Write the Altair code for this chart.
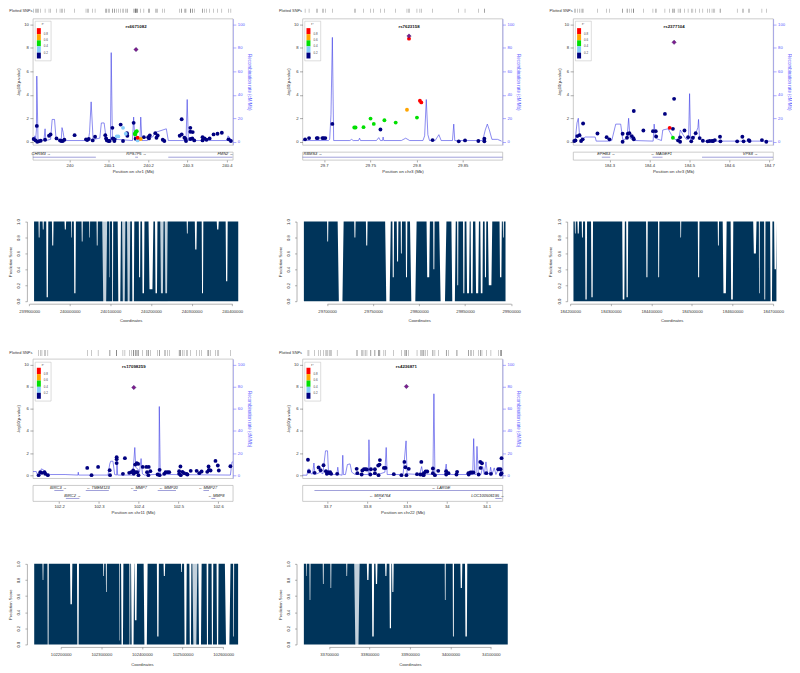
import altair as alt
import pandas as pd

# ---------- values ----------
R2_COLORS = ["#ff0000", "#ffa500", "#00e000", "#87cefa", "#000080"]
R2_LABELS = ["0.8", "0.6", "0.4", "0.2"]
NAVY, LBLUE, GREEN, ORANGE, RED = "#000080", "#87cefa", "#00e000", "#ffa500", "#ff0000"
LEAD = "#7d1c8c"

P1_NAVY = [(239.909,.23),(239.914,.11),(239.917,1.35),(239.918,0),(239.922,.03),(239.927,.08),(239.938,.17),(239.948,.51),(239.952,.62),(239.967,.28),(239.976,.11),(239.979,.06),(239.983,.06),(239.987,.17),(240.013,.56),(240.042,.2),(240.045,.14),(240.049,.23),(240.059,.11),(240.065,.42),(240.091,.56),(240.093,.28),(240.095,.11),(240.099,.06),(240.102,.06),(240.109,1.18),(240.110,.28),(240.115,.23),(240.114,.06),(240.130,1.46),(240.136,.06),(240.146,.73),(240.147,.51),(240.163,1.61),(240.168,.25),(240.189,.39),(240.200,.39),(240.204,.54),(240.202,.28),(240.218,.73),(240.221,.34),(240.224,.54),(240.237,.17),(240.241,.06),(240.280,.51),(240.285,.62),(240.285,1.92),(240.292,.34),(240.295,.23),(240.296,.06),(240.307,1.18),(240.307,.85),(240.313,.82),(240.307,.23),(240.312,.28),(240.317,.11),(240.338,.39),(240.338,.11),(240.343,.28),(240.348,.17),(240.356,.28),(240.366,.62),(240.376,.68),(240.387,.76),(240.404,.2),(240.410,.06)]
P1_LBLUE = [(240.120,.45),(240.124,.45),(240.136,1.18),(240.143,.68),(240.173,.11)]
P1_GREEN = [(240.167,.62),(240.169,.85),(240.171,.9),(240.166,.68),(240.168,.76)]
P1_ORANGE = [(240.181,.23)]
P1_RED = [(240.173,.34)]
P1_LEAD = (240.169,7.86)
P1_RATE = [(239.907,1),(239.911,1),(239.912,5),(239.914,2),(239.916,10),(239.917,56),(239.920,2),(239.935,1),(239.938,11),(239.940,1),(239.952,2),(239.956,19),(239.962,19),(239.966,2),(239.979,1),(239.981,12),(239.984,8),(239.987,1),(240.048,1),(240.051,8),(240.055,34),(240.060,2),(240.077,3),(240.081,16),(240.088,16),(240.093,3),(240.104,1),(240.106,76),(240.109,1),(240.118,2),(240.160,1),(240.163,21),(240.166,2),(240.179,1),(240.181,21),(240.184,1),(240.198,1),(240.202,3),(240.211,4),(240.219,8),(240.246,11),(240.251,1),(240.296,1),(240.299,36),(240.302,1),(240.400,1),(240.403,5),(240.413,1)]

P2_NAVY = [(29.6795,.2),(29.6838,.31),(29.6921,.31),(29.6932,.31),(29.6982,.31),(29.6996,.31),(29.7014,.31),(29.709,1.52),(29.761,1.04),(29.8174,.14),(29.8457,.03),(29.8525,.11),(29.8669,.06),(29.8734,.25),(29.8734,.03)]
P2_GREEN = [(29.7327,1.21),(29.7341,1.21),(29.7427,1.24),(29.7503,1.97),(29.7538,1.52),(29.7653,1.83),(29.7775,1.63),(29.8005,2.06)]
P2_ORANGE = [(29.7897,2.73)]
P2_RED = [(29.8037,3.49),(29.8052,3.35),(29.7919,8.79)]
P2_LEAD = (29.7919,9.01)
P2_RATE = [(29.6767,1),(29.7047,1),(29.7061,2),(29.7075,23),(29.7090,89),(29.7104,1),(29.7280,1),(29.7298,2),(29.7316,1),(29.7373,1),(29.7384,3),(29.7395,1),(29.7567,1),(29.7592,3.5),(29.7610,1),(29.7632,1),(29.7639,4),(29.7646,1),(29.7836,1),(29.7883,3),(29.7926,1),(29.8070,1),(29.8088,5),(29.8106,36),(29.8123,6),(29.8141,1),(29.8202,1),(29.8242,6),(29.8267,1),(29.8389,1),(29.8403,15),(29.8414,1),(29.8716,1),(29.8744,10),(29.8766,15),(29.8788,10),(29.8816,2),(29.8877,2),(29.8920,.5)]

P3_NAVY = [(184.212,.06),(184.215,.11),(184.2195,.48),(184.225,.56),(184.229,.06),(184.233,.2),(184.234,1.55),(184.270,.7),(184.293,.39),(184.300,.2),(184.333,.68),(184.333,0),(184.344,.34),(184.346,.68),(184.350,.73),(184.356,.48),(184.360,.31),(184.361,2.62),(184.361,.2),(184.385,.96),(184.409,.9),(184.416,.9),(184.417,.45),(184.439,2.37),(184.459,1.1),(184.462,3.66),(184.472,.11),(184.477,0),(184.477,.37),(184.488,.96),(184.497,.39),(184.505,.03),(184.509,.34),(184.516,.73),(184.526,.31),(184.534,.08),(184.546,.03),(184.551,.06),(184.557,.06),(184.560,.06),(184.564,.14),(184.577,.42),(184.578,.03),(184.620,.03),(184.633,.42),(184.636,.03),(184.649,.14),(184.651,.06),(184.682,.14),(184.693,0)]
P3_GREEN = [(184.459,.34)]
P3_RED = [(184.451,1.18)]
P3_LEAD = (184.462,8.48)
P3_RATE = [(184.209,.5),(184.2145,2),(184.2187,16),(184.222,20),(184.2245,8),(184.231,2),(184.2394,4),(184.2643,4),(184.2668,.5),(184.2975,.5),(184.3058,1),(184.3158,15),(184.3282,15),(184.3332,2),(184.339,2),(184.344,3),(184.3481,20),(184.3515,3),(184.3639,1),(184.4095,.5),(184.412,15),(184.4154,3),(184.4303,1),(184.4336,10),(184.4469,11),(184.4552,6),(184.4635,2),(184.4734,1),(184.4776,10),(184.4842,6),(184.4925,2),(184.4983,2),(184.5008,41),(184.5033,1),(184.5108,2),(184.5216,12),(184.5232,19),(184.5257,3),(184.5324,.5),(184.7083,.5)]

P4_NAVY = [(102.1484,0),(102.1526,.27),(102.1568,.21),(102.1634,.27),(102.1651,.12),(102.1717,0),(102.2707,.66),(102.2815,0),(102.2981,.75),(102.3272,.45),(102.3281,0),(102.3447,1.63),(102.3447,1.45),(102.3447,1.09),(102.3655,1.54),(102.3605,.12),(102.3763,.21),(102.3813,.27),(102.3863,.42),(102.3879,.12),(102.3913,.96),(102.3954,1.08),(102.3988,1.02),(102.3921,.27),(102.3963,.27),(102.3996,0),(102.4104,.75),(102.4195,.75),(102.4254,.75),(102.4212,.27),(102.4295,.36),(102.4245,0),(102.4478,.06),(102.4528,.48),(102.4528,0),(102.4644,.12),(102.4678,.27),(102.4728,.27),(102.4769,.27),(102.5019,.36),(102.5052,.78),(102.5019,.12),(102.506,0),(102.5102,.3),(102.5143,.18),(102.5202,.12),(102.5227,.06),(102.531,.39),(102.5459,.39),(102.5526,.18),(102.5584,.33),(102.5726,.3),(102.5759,.78),(102.5767,.48),(102.5809,.42),(102.5933,1.29),(102.5992,.87),(102.6017,.42),(102.6308,.81)]
P4_LEAD = (102.3879,7.92)
P4_RATE = [(102.1343,3.3),(102.1426,3.3),(102.1459,0),(102.1526,0),(102.1551,5.7),(102.1609,4.8),(102.1692,1.2),(102.1775,.6),(102.215,.6),(102.2474,.1),(102.2482,2.7),(102.2491,.1),(102.3231,.1),(102.3272,10),(102.3297,12.6),(102.3355,12.6),(102.3397,.6),(102.3447,.1),(102.3455,12.6),(102.3472,.1),(102.3854,.1),(102.3904,25),(102.3929,7),(102.3979,5.7),(102.4021,2.7),(102.4062,15),(102.4096,1.2),(102.4146,.1),(102.4395,.6),(102.4478,1.2),(102.4511,.6),(102.452,62),(102.4545,.1),(102.4728,.6),(102.6308,.1),(102.6349,12),(102.6366,12)]

P5_NAVY = [(33.6517,1.39),(33.6542,.33),(33.6684,.21),(33.6784,.69),(33.6834,.45),(33.6908,.9),(33.6967,.36),(33.6992,.12),(33.7017,.27),(33.705,.18),(33.7075,.27),(33.71,.12),(33.725,.12),(33.774,.57),(33.7757,.18),(33.7865,.06),(33.7882,.42),(33.7923,.54),(33.7965,.54),(33.7998,.51),(33.8082,.06),(33.8098,.54),(33.8198,.54),(33.8198,.18),(33.8281,.87),(33.8314,.96),(33.8323,1.36),(33.8289,0),(33.8423,.66),(33.8464,.66),(33.8672,.09),(33.8864,0),(33.8938,1.2),(33.8963,.72),(33.9047,.57),(33.8988,0),(33.9255,.09),(33.9338,.06),(33.9363,1.2),(33.9388,.06),(33.9429,.18),(33.9421,0),(33.9471,.33),(33.9512,.33),(33.9654,.6),(33.9654,.18),(33.9704,0),(33.9787,.39),(33.9987,.36),(33.9987,.06),(34.0045,.18),(34.0245,.06),(34.0261,.3),(34.0544,.18),(34.0552,.06),(34.0594,.24),(34.0627,.24),(34.0669,.24),(34.0802,.06),(34.0844,1.2),(34.0885,1.08),(34.0852,.66),(34.0993,.18),(34.111,.12),(34.1293,.54),(34.1351,.54),(34.1376,1.54),(34.1376,.18),(34.136,.06)]
P5_LEAD = (33.8988,8.01)
P5_RATE = [(33.6384,0),(33.6493,0),(33.6517,5.4),(33.6559,5.4),(33.6592,1.2),(33.6634,1.2),(33.6667,11),(33.6692,1.2),(33.6742,1.2),(33.6825,2.7),(33.6892,1.2),(33.6925,12),(33.6958,22),(33.7008,22),(33.7033,2.7),(33.7075,.6),(33.7241,.6),(33.7266,7.2),(33.7291,.6),(33.7374,0),(33.7391,18),(33.7408,.6),(33.7458,.6),(33.7507,9.6),(33.7574,10.2),(33.7616,2.7),(33.7699,.6),(33.8032,.6),(33.8048,32),(33.8073,.6),(33.8281,.6),(33.8448,2.7),(33.8481,25),(33.8506,.6),(33.8905,.6),(33.898,31),(33.9005,1.2),(33.9321,.6),(33.9371,7.8),(33.9404,1.2),(33.9654,.6),(33.9679,73.5),(33.9704,.6),(33.9945,.6),(33.9987,10),(34.0012,.6),(34.0652,.6),(34.0677,33),(34.0702,.6),(34.0735,.6),(34.076,26),(34.0794,.6),(34.086,.6),(34.0902,7.8),(34.0943,.6),(34.0985,12),(34.1027,.6),(34.1085,2.7),(34.1102,7.2),(34.1135,.6),(34.1193,6.6),(34.1235,.6),(34.1318,7.2),(34.136,.6),(34.1401,.6)]

# genes: name, label position, line start, line end, track
P1_GENES = [("CHRM3 \u2192",239.928,239.907,240.067,0),("RPS7P5 \u2192",240.170,240.167,240.174,0),("FMN2 \u2192",240.396,240.251,240.414,0)]
P2_GENES = [("RBMS3 \u2192",29.688,29.6767,29.893,0)]
P3_GENES = [("EPHB3 \u2192",184.292,184.281,184.302,0),("\u2190 MAGEF1",184.430,184.408,184.433,0),("VPS8 \u2192",184.653,184.532,184.71,0)]
P4_GENES = [("BIRC3 \u2192",102.198,102.188,102.211,0),("\u2190 TMEM123",102.298,102.267,102.325,0),("\u2190 MMP7",102.400,102.387,102.396,0),("\u2190 MMP20",102.475,102.448,102.494,0),("\u2190 MMP27",102.574,102.563,102.577,0),("BIRC2 \u2192",102.234,102.217,102.251,1),("\u2190 MMP8",102.595,102.583,102.593,1)]
P5_GENES = [("\u2190 LARGE",33.986,33.668,34.14,0),("\u2190 MIR4764",33.832,33.830,33.835,1),("LOC100506195 \u2192",34.103,34.122,34.138,1)]

# prediction score: start, end, then notches (left, right, lowest score)
S1 = (239.912,240.415)
N1 = [(239.923,239.926,.8),(239.933,239.936,.9),(239.942,239.947,.05),(239.956,239.960,.7),(239.987,239.991,.9),(240.003,240.005,.8),(240.010,240.015,.1),(240.029,240.032,.75),(240.048,240.050,.8),(240.066,240.069,.7),(240.080,240.092,0),(240.097,240.099,.3),(240.104,240.107,0),(240.118,240.126,0),(240.129,240.137,0),(240.141,240.149,0),(240.153,240.159,0),(240.170,240.174,.3),(240.178,240.184,.1),(240.194,240.206,.15),(240.210,240.216,.1),(240.223,240.231,.1),(240.234,240.241,.1),(240.288,240.291,.85),(240.308,240.313,.65),(240.325,240.329,.1),(240.362,240.367,.9),(240.384,240.389,.25)]
PALE1 = [(240.080,240.104),(240.129,240.153),(240.223,240.241)]
S2 = (29.6748,29.8939)
N2 = [(29.7000,29.7014,.75),(29.7115,29.718,0),(29.7295,29.731,.8),(29.7422,29.744,.7),(29.7631,29.7692,0),(29.771,29.7728,.3),(29.7757,29.7775,.5),(29.78,29.7814,.6),(29.7854,29.7872,.3),(29.7901,29.7973,0),(29.8081,29.8117,.3),(29.8153,29.8168,.4),(29.8218,29.8297,0),(29.8351,29.8398,0),(29.8413,29.8427,.2),(29.8477,29.8495,.1),(29.8514,29.855,.1),(29.856,29.8586,.1),(29.8611,29.865,.1),(29.8665,29.8694,.1),(29.8712,29.873,.3),(29.8748,29.8795,.2),(29.8874,29.8899,.3),(29.891,29.8921,.8)]
PALE2 = []
S3 = (184.2082,184.7082)
N3 = [(184.2114,184.2139,.85),(184.218,184.222,.85),(184.2286,184.2319,.8),(184.2368,184.2417,.02),(184.2515,184.2564,.05),(184.3283,184.3348,.02),(184.3381,184.343,.05),(184.3871,184.3912,.3),(184.4165,184.4198,.3),(184.4712,184.4737,.8),(184.5145,184.5186,.3),(184.5636,184.5668,.7),(184.5758,184.5856,.1),(184.5954,184.602,.02),(184.651,184.6592,.6),(184.6649,184.6673,.1),(184.6779,184.6812,.02),(184.6926,184.6984,0),(184.7025,184.7082,.4)]
PALE3 = []
S4 = (102.1347,102.6367)
N4 = [(102.1551,102.1576,.8),(102.1673,102.1706,0),(102.2229,102.2286,.5),(102.24,102.2449,0),(102.3045,102.3069,.85),(102.3110,102.3135,.65),(102.3437,102.3453,.05),(102.3486,102.3543,0),(102.369,102.3714,0),(102.3731,102.3808,0),(102.3815,102.3878,.3),(102.4041,102.4139,0),(102.4367,102.4416,.1),(102.4531,102.4571,.85),(102.4963,102.4988,.9),(102.5037,102.5102,0),(102.5167,102.5216,0),(102.5241,102.5363,0),(102.5388,102.5469,0),(102.5592,102.5633,0),(102.5714,102.5755,0),(102.5837,102.5886,0),(102.6041,102.618,0),(102.6245,102.6269,.1)]
PALE4 = [(102.5241,102.5363)]
S5 = (33.6377,34.1418)
N5 = [(33.6434,33.6451,.85),(33.6516,33.6541,.55),(33.6844,33.6869,.75),(33.7033,33.7057,.7),(33.7426,33.7451,.85),(33.7623,33.7754,0),(33.7934,33.7984,.8),(33.8057,33.8115,.1),(33.8148,33.8197,.75),(33.8385,33.8426,.85),(33.8492,33.8541,.2),(33.8557,33.8598,.65),(33.986,33.9885,.55),(34.0057,34.009,.1),(34.0246,34.0295,.7),(34.0361,34.0418,.1)]
PALE5 = [(33.7623,33.7754)]

TXT = "#333333"
BLUE_AXIS = "#5a5aff"
LINE_BLUE = "#3c3ce6"
PRED_DARK = "#00345a"
PALE = "#c3d1dc"
FRAME = "#b5b5b5"
FS = 4.2

def frame_view():
    return alt.ViewConfig(stroke=FRAME, strokeWidth=0.7)

def spacer(w, h):
    return alt.Chart(pd.DataFrame({"s": [0]})).mark_point(opacity=0).encode(
        x=alt.value(0), y=alt.value(0)).properties(width=w, height=h)

def main_x(dom):
    return alt.X("x:Q", scale=alt.Scale(domain=list(dom), nice=False), axis=None, title=None)

def strip_cell(dom, snps, w, h):
    df = pd.DataFrame({"x": [p[0] for p in snps], "b": "Plotted SNPs"})
    return alt.Chart(df).mark_tick(color="#555555", thickness=0.4, size=h, opacity=0.8).encode(
        x=main_x(dom),
        y=alt.Y("b:N", title=None, axis=alt.Axis(domain=False, ticks=False, labelFontSize=3.9,
                                                  labelColor=TXT, labelPadding=1)),
    ).properties(width=w, height=h)

def main_cell(dom, rate, groups, lead, rsid, swatch_y, w, h, box):
    ydom = [-0.28, 10.5]
    rdom = [-2.8, 105]
    x = main_x(dom)
    yaxis_none = alt.Y("y:Q", scale=alt.Scale(domain=ydom, nice=False), axis=None, title=None)
    y2f = alt.Y2("y2:Q")
    left_axis = alt.Axis(values=[0, 2, 4, 6, 8, 10], title="-log10(p-value)", domain=False, grid=False,
                         tickSize=3, tickWidth=0.5, tickColor="#555555", labelFontSize=FS,
                         labelColor=TXT, labelPadding=1.5, titleFontSize=FS, titleColor=TXT,
                         titleFontWeight="normal", titlePadding=3, orient="left", labelFlush=False)
    right_axis = alt.Axis(values=[0, 20, 40, 60, 80, 100], title="Recombination rate (cM/Mb)", domain=True,
                          domainColor=BLUE_AXIS, domainWidth=0.4, grid=False, tickSize=3, tickWidth=0.5,
                          tickColor=BLUE_AXIS, labelFontSize=FS, labelColor=BLUE_AXIS, labelPadding=1.5,
                          titleFontSize=FS + 0.3, titleColor=BLUE_AXIS, titleFontWeight="normal",
                          titlePadding=2, orient="right", labelFlush=False)
    layers = []
    rdf = pd.DataFrame(rate, columns=["x", "r"])
    layers.append(alt.Chart(rdf).mark_line(color=LINE_BLUE, strokeWidth=0.7, opacity=0.85).encode(
        x=x, y=alt.Y("r:Q", scale=alt.Scale(domain=rdom, nice=False), axis=right_axis)))
    rows = []
    for color, g in groups:
        rows += [{"x": a, "y": b, "c": color} for a, b in g]
    layers.append(alt.Chart(pd.DataFrame(rows)).mark_circle(size=15, opacity=1).encode(
        x=x, y=alt.Y("y:Q", scale=alt.Scale(domain=ydom, nice=False), axis=left_axis),
        color=alt.Color("c:N", scale=None)))
    layers.append(alt.Chart(pd.DataFrame([{"x": lead[0], "y": lead[1]}])).mark_point(
        shape="diamond", filled=True, size=20, color=LEAD, opacity=1, stroke="#202060", strokeWidth=0.3
    ).encode(x=x, y=yaxis_none))
    layers.append(alt.Chart(pd.DataFrame([{"x": lead[0], "y": 9.78, "t": rsid}])).mark_text(
        fontSize=FS + 0.2, color="#111111", fontWeight="bold").encode(x=x, y=yaxis_none, text="t:N"))
    layers.append(alt.Chart(pd.DataFrame([{"y": box[0], "y2": box[1]}])).mark_rect(
        fill="white", stroke="#bbbbbb", strokeWidth=0.5).encode(
        x=alt.value(2.3), x2=alt.value(18.3), y=yaxis_none, y2=y2f))
    sw = pd.DataFrame({"y": swatch_y[:-1], "y2": swatch_y[1:], "c": R2_COLORS})
    layers.append(alt.Chart(sw).mark_rect().encode(
        x=alt.value(4), x2=alt.value(8), y=yaxis_none, y2=y2f, color=alt.Color("c:N", scale=None)))
    lab = pd.DataFrame({"y": swatch_y[1:5], "t": R2_LABELS})
    layers.append(alt.Chart(lab).mark_text(fontSize=3, color="#444444", align="left").encode(
        x=alt.value(11), y=yaxis_none, text="t:N"))
    layers.append(alt.Chart(pd.DataFrame([{"y": box[0] - 0.25, "t": "r\u00b2"}])).mark_text(
        fontSize=3.5, color="#333333").encode(x=alt.value(10), y=yaxis_none, text="t:N"))
    return alt.layer(*layers).resolve_scale(y="independent").properties(width=w, height=h, view=frame_view())

def gene_cell(dom, genes, ticks, title, w, h):
    n = max(g[4] for g in genes) + 1
    axis = alt.Axis(values=ticks, format=".6~g", title=title, domain=False, grid=False, tickSize=2,
                    tickWidth=0.5, tickColor="#555555", labelFontSize=FS, labelColor=TXT, labelPadding=1.5,
                    titleFontSize=FS + 0.2, titleColor=TXT, titleFontWeight="normal", titlePadding=1.5,
                    labelFlush=False)
    x = alt.X("x:Q", scale=alt.Scale(domain=list(dom), nice=False), axis=axis)
    y = alt.Y("y:Q", scale=alt.Scale(domain=[n, 0], nice=False), axis=None)
    line = pd.DataFrame([{"x": g[2], "x2": g[3], "y": g[4] + 0.66} for g in genes])
    text = pd.DataFrame([{"x": g[1], "y": g[4] + 0.32, "t": g[0]} for g in genes])
    a = alt.Chart(line).mark_rule(color="#2020a8", strokeWidth=0.5, opacity=0.85).encode(x=x, x2="x2:Q", y=y)
    b = alt.Chart(text).mark_text(fontSize=FS - 0.2, fontStyle="italic", color="#222222").encode(x=x, y=y, text="t:N")
    return alt.layer(a, b).properties(width=w, height=h, view=frame_view())

def pred_cell(span, notches, pale, ticks, rng, w, h):
    xs = [span[0]]
    ys = [1.0]
    for l, r, low in notches:
        xs += [l, l + (r - l) * 0.2, l + (r - l) * 0.8, r]
        ys += [1.0, low, low, 1.0]
    xs.append(span[1])
    ys.append(1.0)
    df = pd.DataFrame({"x": [v * 1e6 for v in xs], "s": ys})
    axis = alt.Axis(values=ticks, format="d", title="Coordinates", domain=True, domainColor="#666666",
                    domainWidth=0.5, grid=False, tickSize=2, tickWidth=0.5, tickColor="#666666",
                    labelFontSize=FS, labelColor=TXT, labelPadding=4, labelOverlap=False, titleFontSize=FS,
                    titleColor=TXT, titleFontWeight="normal", titlePadding=5, offset=2.5, labelFlush=False)
    x = alt.X("x:Q", scale=alt.Scale(domain=[ticks[0], ticks[-1]], range=rng, nice=False), axis=axis)
    yaxis = alt.Axis(values=[0, .2, .4, .6, .8, 1], format=".1f", title="Prediction Score", domain=True,
                     domainColor="#666666", domainWidth=0.5, grid=False, tickSize=2, tickWidth=0.5,
                     tickColor="#666666", labelFontSize=FS, labelColor=TXT, labelAngle=-90, labelAlign="center",
                     labelBaseline="bottom", labelPadding=4, titleFontSize=FS, titleColor=TXT,
                     titleFontWeight="normal", titlePadding=4.5, offset=6, labelFlush=False)
    y = alt.Y("s:Q", scale=alt.Scale(domain=[0, 1], nice=False), axis=yaxis)
    layers = []
    if pale:
        pale_df = pd.DataFrame([{"x": a * 1e6, "x2": b * 1e6, "s": 0.0, "s2": 1.0} for a, b in pale])
        layers.append(alt.Chart(pale_df).mark_rect(color=PALE).encode(x=x, x2="x2:Q", y=y, y2="s2:Q"))
    layers.append(alt.Chart(df).mark_area(color=PRED_DARK, opacity=1, interpolate="linear").encode(x=x, y=y))
    return alt.layer(*layers).properties(width=w, height=h)

W1, W2, W3 = 270.5, 272, 206
F = 201

d1 = (239.907, 240.415); d2 = (29.6767, 29.893); d3 = (184.209, 184.71); d4 = (102.134, 102.637); d5 = (33.638, 34.14)
t1 = [240, 240.1, 240.2, 240.3, 240.4]; t2 = [29.7, 29.75, 29.8, 29.85]; t3 = [184.3, 184.4, 184.5, 184.6, 184.7]
t4 = [102.2, 102.3, 102.4, 102.5, 102.6]; t5 = [33.7, 33.8, 33.9, 34, 34.1]

sw_top = [9.69, 9.18, 8.65, 8.14, 7.6, 7.1]
sw_bot = [9.7, 9.13, 8.55, 7.98, 7.44, 6.9]
box_top = (10.28, 6.9)
box_bot = (10.2, 6.69)

g1 = [(NAVY, P1_NAVY), (LBLUE, P1_LBLUE), (GREEN, P1_GREEN), (ORANGE, P1_ORANGE), (RED, P1_RED)]
g2 = [(NAVY, P2_NAVY), (GREEN, P2_GREEN), (ORANGE, P2_ORANGE), (RED, P2_RED)]
g3 = [(NAVY, P3_NAVY), (GREEN, P3_GREEN), (RED, P3_RED)]
g4 = [(NAVY, P4_NAVY)]
g5 = [(NAVY, P5_NAVY)]

all1 = P1_NAVY + P1_LBLUE + P1_GREEN + P1_ORANGE + P1_RED + [P1_LEAD]
all2 = P2_NAVY + P2_GREEN + P2_ORANGE + P2_RED + [P2_LEAD]
all3 = P3_NAVY + P3_GREEN + P3_RED + [P3_LEAD]
all4 = P4_NAVY + [P4_LEAD]
all5 = P5_NAVY + [P5_LEAD]

def sp(h):
    return [spacer(W1, h), spacer(W2, h), spacer(W3, h)]

cells = []
cells += [strip_cell(d1, all1, F, 4), strip_cell(d2, all2, F, 4), strip_cell(d3, all3, F, 4)]
cells += sp(6)
cells += [
    main_cell(d1, P1_RATE, g1, P1_LEAD, "rs6671082", sw_top, F, 127, box_top),
    main_cell(d2, P2_RATE, g2, P2_LEAD, "rs7623158", sw_top, F, 127, box_top),
    main_cell(d3, P3_RATE, g3, P3_LEAD, "rs2377104", sw_top, F, 127, box_top),
]
cells += sp(7)
cells += [
    gene_cell(d1, P1_GENES, t1, "Position on chr1 (Mb)", F, 8),
    gene_cell(d2, P2_GENES, t2, "Position on chr3 (Mb)", F, 8),
    gene_cell(d3, P3_GENES, t3, "Position on chr3 (Mb)", F, 8),
]
cells += sp(62)
cells += [
    pred_cell(S1, N1, PALE1, [239900000, 240000000, 240100000, 240200000, 240300000, 240400000], [-3.7, 200.3], F, 80),
    pred_cell(S2, N2, PALE2, [29700000, 29750000, 29800000, 29850000, 29900000], [24.7, 209.7], F, 80),
    pred_cell(S3, N3, PALE3, [184200000, 184300000, 184400000, 184500000, 184600000, 184700000], [-3, 201], F, 80),
]
cells += sp(49)
cells += [strip_cell(d4, all4, F, 6), strip_cell(d5, all5, F, 6), spacer(W3, 6)]
cells += sp(3)
cells += [
    main_cell(d4, P4_RATE, g4, P4_LEAD, "rs17098259", sw_bot, F, 120, box_bot),
    main_cell(d5, P5_RATE, g5, P5_LEAD, "rs4236871", sw_bot, F, 120, box_bot),
    spacer(W3, 120),
]
cells += sp(7)
cells += [
    gene_cell(d4, P4_GENES, t4, "Position on chr11 (Mb)", F, 16),
    gene_cell(d5, P5_GENES, t5, "Position on chr22 (Mb)", F, 16),
    spacer(W3, 16),
]
cells += sp(63)
cells += [
    pred_cell(S4, N4, PALE4, [102200000, 102300000, 102400000, 102500000, 102600000], [28, 191.3], F, 81),
    pred_cell(S5, N5, PALE5, [33700000, 33800000, 33900000, 34000000, 34100000], [26.7, 189.3], F, 81),
    spacer(W3, 81),
]

chart = alt.concat(*cells, columns=3, spacing=0, bounds="flush").properties(
    padding={"left": 0, "top": -2, "right": 0, "bottom": 0}
).configure(font="Liberation Sans", background="white").configure_view(stroke="transparent")

chart.save("out.html", embed_options={"renderer": "svg", "actions": False})
